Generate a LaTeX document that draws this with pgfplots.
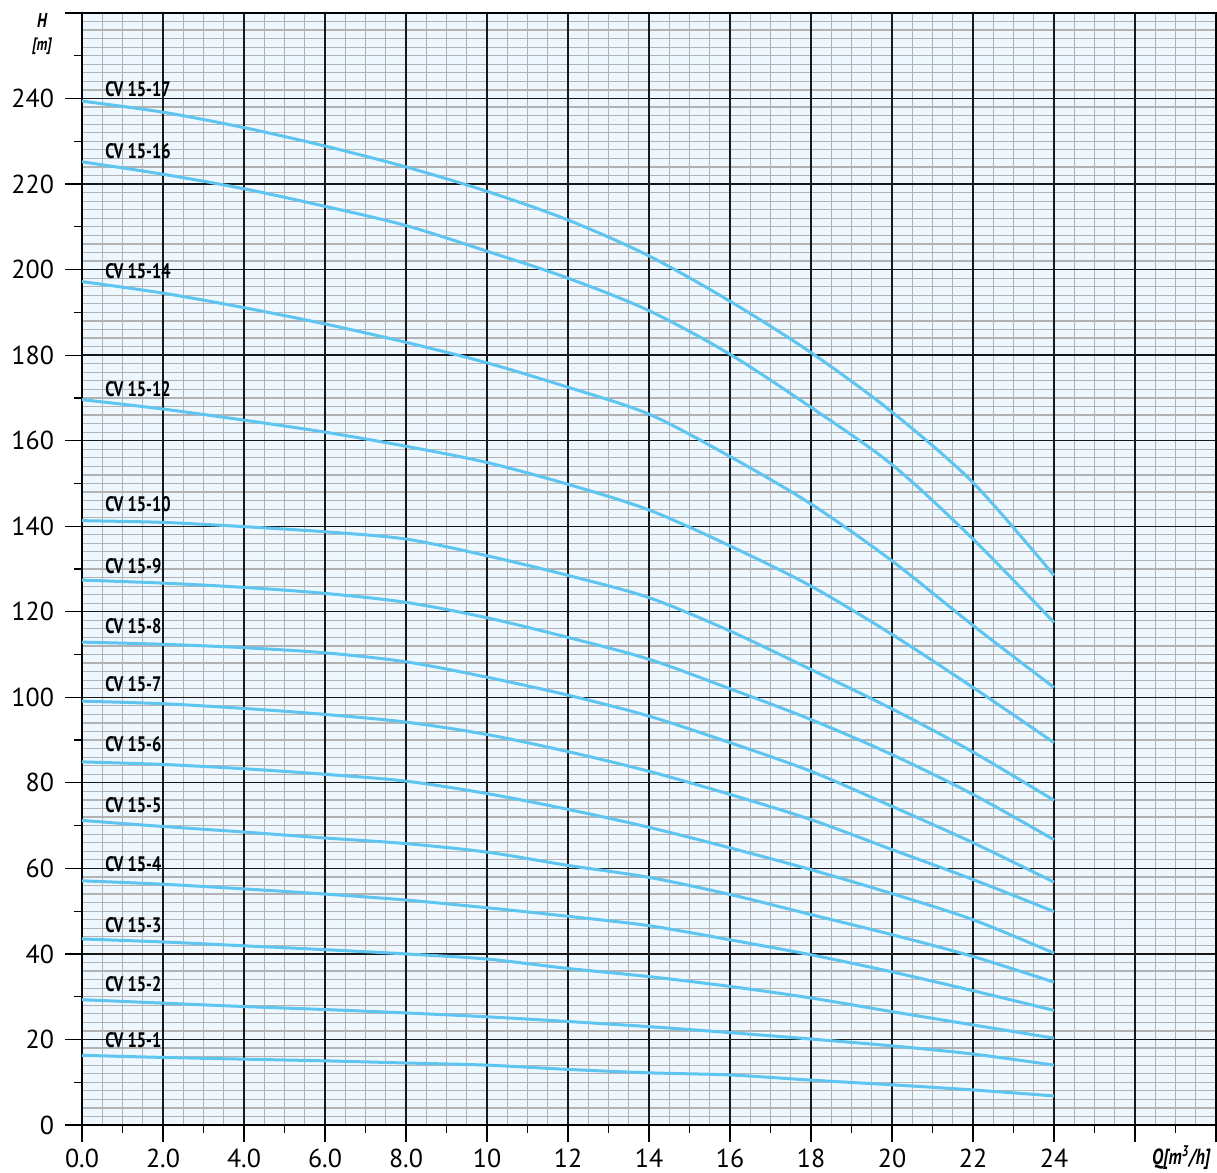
\documentclass[border=0pt]{standalone}
\usepackage{fontspec}
\setmainfont{PT Sans}
\usepackage{graphicx}
\usepackage{pgfplots}
\pgfplotsset{compat=1.18}
\definecolor{bgblue}{RGB}{238,247,253}
\definecolor{curvec}{RGB}{94,196,240}
\definecolor{mingrid}{RGB}{178,178,178}
\definecolor{majgrid}{RGB}{25,25,25}
\newcommand{\lbl}[1]{\scalebox{0.78}[1]{\bfseries #1}}
\pgfplotsset{base/.style={
 scale only axis, width=567pt, height=556pt,
 xmin=0, xmax=28, ymin=0, ymax=260,
 xtick={0,2,...,28}, ytick={0,20,...,260},
 minor x tick num=3, minor y tick num=9,
},
cv/.style={curvec, line width=1.5pt, smooth, mark=none}}
\begin{document}
\begin{tikzpicture}
% background and minor grid
\begin{axis}[base,
 axis background/.style={fill=bgblue},
 xminorgrids=true, yminorgrids=true,
 minor grid style={mingrid, line width=0.6pt},
 xticklabels={}, yticklabels={},
 tick style={draw=none},
 axis line style={draw=none},
]
\end{axis}
% major grid, ticks, curves
\begin{axis}[base,
 xticklabels={0.0,2.0,4.0,6.0,8.0,10,12,14,16,18,20,22,24,,},
 yticklabels={0,20,40,60,80,100,120,140,160,180,200,220,240,},
 xmajorgrids=true, ymajorgrids=true,
 major grid style={majgrid, line width=0.65pt},
 tick align=outside,
 tick pos=left,
 major tick length=8.5pt,
 minor tick length=0pt,
 tick style={black, line width=0.6pt},
 extra x ticks={1,3,...,27},
 extra x tick labels={},
 extra y ticks={10,30,...,250},
 extra y tick labels={},
 extra tick style={grid=none, major tick length=4pt},
 axis line style={black, line width=0.8pt},
 /pgf/number format/assume math mode=true,
 ticklabel style={font=\fontsize{13}{15}\selectfont},
 yticklabel style={xshift=-2pt},
 clip=false,
]
\addplot[cv] coordinates {(0,239.4)(2,236.8)(4,233.2)(6,228.9)(8,224)(10,218.3)(12,211.6)(14,203.2)(16,192.6)(18,180.6)(20,166.7)(22,150.2)(24,128.5)};
\addplot[cv] coordinates {(0,225.2)(2,222.3)(4,218.9)(6,214.8)(8,210.3)(10,204.3)(12,198)(14,190.4)(16,180.2)(18,167.8)(20,154.4)(22,137)(24,117.5)};
\addplot[cv] coordinates {(0,197.2)(2,194.5)(4,191.1)(6,187.3)(8,183)(10,178.2)(12,172.5)(14,166.2)(16,156.3)(18,145.2)(20,131.9)(22,116.8)(24,102.3)};
\addplot[cv] coordinates {(0,169.6)(2,167.4)(4,164.8)(6,162)(8,158.7)(10,154.9)(12,149.8)(14,143.8)(16,135.4)(18,126)(20,114.7)(22,102.3)(24,89.4)};
\addplot[cv] coordinates {(0,141.3)(2,140.9)(4,139.9)(6,138.7)(8,137)(10,133.1)(12,128.5)(14,123.3)(16,115.5)(18,106.5)(20,97.3)(22,87.2)(24,75.9)};
\addplot[cv] coordinates {(0,127.4)(2,126.7)(4,125.7)(6,124.3)(8,122.2)(10,118.6)(12,114)(14,108.9)(16,102)(18,94.8)(20,86.6)(22,77.3)(24,66.7)};
\addplot[cv] coordinates {(0,112.9)(2,112.4)(4,111.6)(6,110.4)(8,108.3)(10,104.7)(12,100.5)(14,95.6)(16,89.4)(18,82.7)(20,74.5)(22,66)(24,56.8)};
\addplot[cv] coordinates {(0,99.1)(2,98.5)(4,97.4)(6,96)(8,94.2)(10,91.3)(12,87.3)(14,82.7)(16,77.3)(18,71.4)(20,64.4)(22,57.4)(24,49.9)};
\addplot[cv] coordinates {(0,84.9)(2,84.3)(4,83.3)(6,82)(8,80.4)(10,77.5)(12,73.8)(14,69.6)(16,64.8)(18,59.7)(20,54.1)(22,48)(24,40.2)};
\addplot[cv] coordinates {(0,71.2)(2,69.8)(4,68.5)(6,67.1)(8,65.8)(10,63.8)(12,60.7)(14,57.9)(16,53.9)(18,49.2)(20,44.5)(22,39.4)(24,33.4)};
\addplot[cv] coordinates {(0,57.1)(2,56.3)(4,55.2)(6,54)(8,52.6)(10,50.8)(12,48.8)(14,46.6)(16,43.3)(18,39.8)(20,35.8)(22,31.4)(24,26.8)};
\addplot[cv] coordinates {(0,43.5)(2,42.8)(4,41.9)(6,41)(8,40)(10,38.8)(12,36.6)(14,34.7)(16,32.4)(18,29.7)(20,26.5)(22,23.4)(24,20.3)};
\addplot[cv] coordinates {(0,29.3)(2,28.5)(4,27.7)(6,27)(8,26.2)(10,25.3)(12,24.2)(14,23)(16,21.6)(18,20.1)(20,18.5)(22,16.6)(24,14)};
\addplot[cv] coordinates {(0,16.3)(2,15.8)(4,15.4)(6,15)(8,14.5)(10,14)(12,13)(14,12.2)(16,11.7)(18,10.5)(20,9.4)(22,8.2)(24,6.8)};
\begin{scope}[every node/.style={anchor=west, inner sep=0pt, font=\fontsize{10.5}{12}\selectfont}]
\node at (axis cs:0.57,242.3) {\lbl{CV 15-17}};
\node at (axis cs:0.57,227.8) {\lbl{CV 15-16}};
\node at (axis cs:0.57,199.7) {\lbl{CV 15-14}};
\node at (axis cs:0.57,172.0) {\lbl{CV 15-12}};
\node at (axis cs:0.57,145.2) {\lbl{CV 15-10}};
\node at (axis cs:0.57,130.7) {\lbl{CV 15-9}};
\node at (axis cs:0.57,116.6) {\lbl{CV 15-8}};
\node at (axis cs:0.57,103.0) {\lbl{CV 15-7}};
\node at (axis cs:0.57,89.0) {\lbl{CV 15-6}};
\node at (axis cs:0.57,74.9) {\lbl{CV 15-5}};
\node at (axis cs:0.57,60.9) {\lbl{CV 15-4}};
\node at (axis cs:0.57,46.8) {\lbl{CV 15-3}};
\node at (axis cs:0.57,33.0) {\lbl{CV 15-2}};
\node at (axis cs:0.57,19.9) {\lbl{CV 15-1}};
\end{scope}
\node[inner sep=0pt, font=\fontsize{10}{12}\selectfont] at (axis cs:-0.99,258.3) {\lbl{\itshape H}};
\node[inner sep=0pt, font=\fontsize{9}{11}\selectfont] at (axis cs:-0.99,252.2) {\lbl{\itshape [m]}};
\node[inner sep=0pt, font=\fontsize{11}{13}\selectfont] at (axis cs:27.14,-7.7) {\lbl{\itshape Q[m\textsuperscript{3}/h]}};
\end{axis}
\pgfresetboundingbox
\path[use as bounding box] ([shift={(-41pt,-23.5pt)}]current axis.south west) rectangle ([shift={(0.5pt,6.5pt)}]current axis.north east);
\end{tikzpicture}
\end{document}
